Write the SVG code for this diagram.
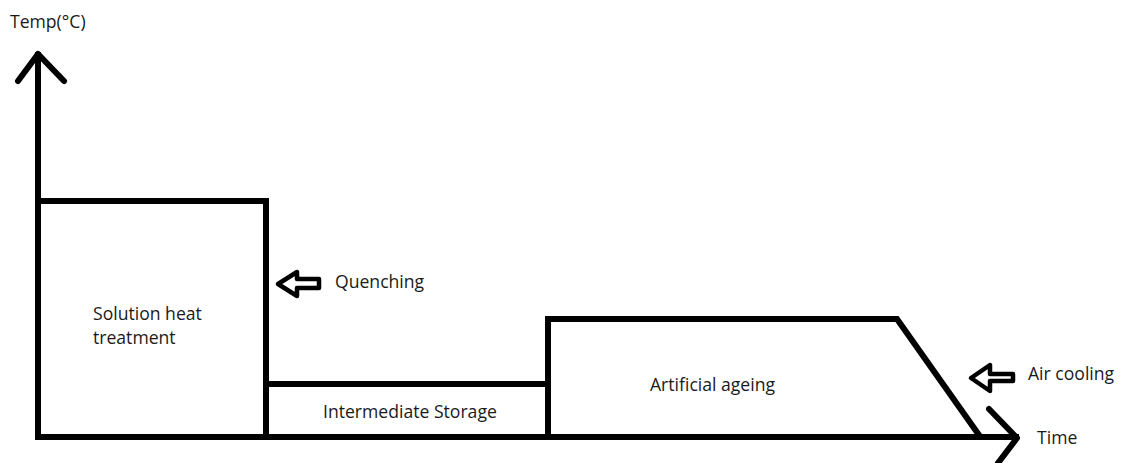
<svg xmlns="http://www.w3.org/2000/svg" width="1122" height="463" viewBox="0 0 1122 463">
<style>
.ln{fill:none;stroke:#000;stroke-width:6;stroke-linecap:square;stroke-linejoin:miter}
.ah{fill:none;stroke:#000;stroke-width:6;stroke-linecap:round;stroke-linejoin:round}
.blk{fill:#fff;stroke:#000;stroke-width:4.5;stroke-linejoin:round}
.t{font-family:"Open Sans","Liberation Sans",Arial,sans-serif;font-size:17.6px;fill:#1a1a1a}
</style>
<rect width="1122" height="463" fill="#fff"/>
<g id="axes">
<line class="ln" x1="38" y1="55" x2="38" y2="437"/>
<polyline class="ah" points="18,81 38,54 64,81"/>
<line class="ln" x1="38" y1="437" x2="1016" y2="437"/>
<polyline class="ah" points="989,409 1017,438 998,463"/>
<text class="t" x="10" y="28">Temp(°C)</text>
<text class="t" x="1037" y="444">Time</text>
</g>
<g id="solution-heat-treatment">
<polyline class="ln" points="38,201 266,201 266,437"/>
<text class="t" x="93" y="320">Solution heat</text>
<text class="t" x="93" y="344">treatment</text>
</g>
<g id="intermediate-storage">
<polyline class="ln" points="266,384 548,384"/>
<text class="t" x="323" y="418">Intermediate Storage</text>
</g>
<g id="artificial-ageing">
<polyline class="ln" points="548,437 548,319 897,319 979,435"/>
<text class="t" x="650" y="391">Artificial ageing</text>
</g>
<g id="connectors">
<g id="quenching">
<polygon class="blk" points="278,284 297,272 297,279 319,279 319,288 297,288 297,296"/>
<text class="t" x="335" y="288">Quenching</text>
</g>
<g id="air-cooling">
<polygon class="blk" points="971,378 990,365 990,374 1013,374 1013,381 990,381 990,391"/>
<text class="t" x="1028" y="380">Air cooling</text>
</g>
</g>
</svg>
